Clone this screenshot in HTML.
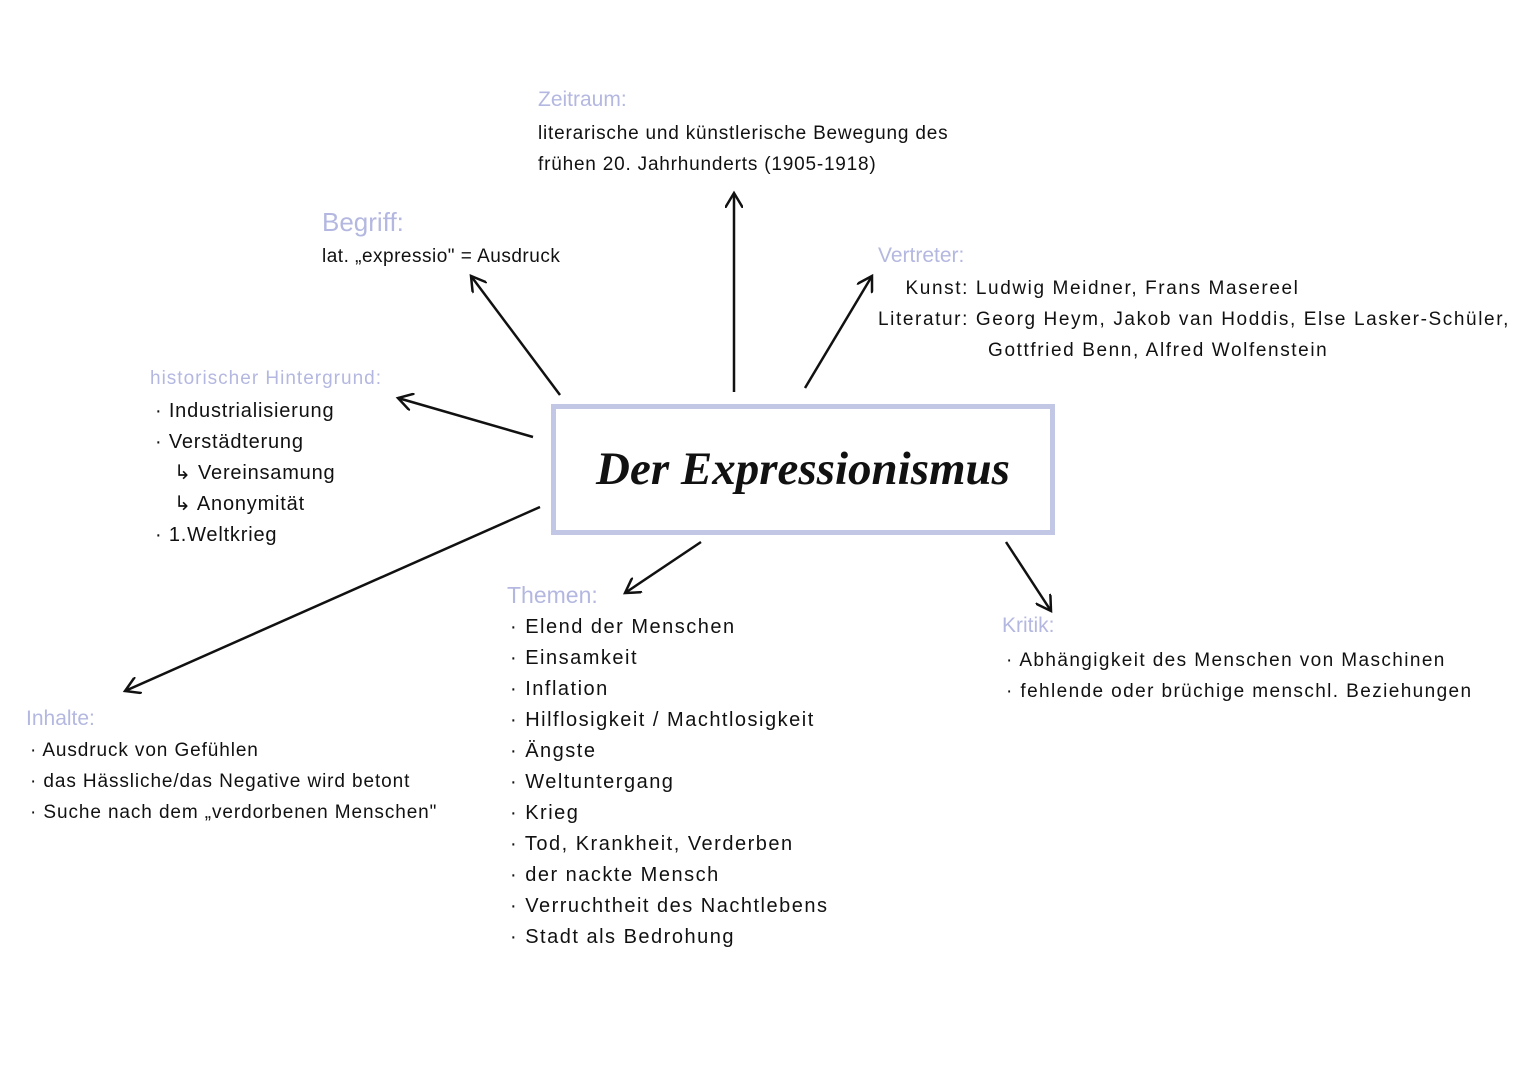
<!DOCTYPE html>
<html><head><meta charset="utf-8"><style>
body{margin:0;width:1527px;height:1080px;background:#fff;position:relative;overflow:hidden;font-family:"Liberation Sans",sans-serif;color:#111}
.t{position:absolute;white-space:nowrap;font-size:20px;line-height:31px;letter-spacing:0.8px}
.h{position:absolute;white-space:nowrap;color:#b4b8e0;font-size:21px}
.box{position:absolute;left:551px;top:404px;width:494px;height:121px;border:5px solid #c3c7e6;box-sizing:content-box}
.title{position:absolute;left:551px;top:404px;width:504px;height:131px;text-align:center;line-height:131px;font-family:"Liberation Serif",serif;font-style:italic;font-weight:bold;font-size:47px;color:#111}
</style></head><body>
<svg width="1527" height="1080" style="position:absolute;left:0;top:0">
<defs><marker id="a" markerWidth="18" markerHeight="18" refX="15" refY="9" orient="auto" markerUnits="userSpaceOnUse"><path d="M0,0 L15,9 L0,18" fill="none" stroke="#111" stroke-width="2.5"/></marker></defs>
<g stroke="#111" stroke-width="2.5" fill="none" marker-end="url(#a)">
<line x1="560" y1="395" x2="471" y2="276"/>
<line x1="734" y1="392" x2="734" y2="193"/>
<line x1="805" y1="388" x2="872" y2="276"/>
<line x1="533" y1="437" x2="398" y2="398"/>
<line x1="540" y1="507" x2="125" y2="691"/>
<line x1="701" y1="542" x2="625" y2="593"/>
<line x1="1006" y1="542" x2="1051" y2="611"/>
</g></svg>
<div class="box"></div><div class="title">Der Expressionismus</div>

<div class="h" style="left:538px;top:88px">Zeitraum:</div>
<div class="t" style="left:538px;top:118px;font-size:19px">literarische und künstlerische Bewegung des<br>frühen 20. Jahrhunderts (1905-1918)</div>

<div class="h" style="left:322px;top:207px;font-size:26px">Begriff:</div>
<div class="t" style="left:322px;top:241px;font-size:19px;letter-spacing:0.5px">lat. „expressio" = Ausdruck</div>

<div class="h" style="left:878px;top:244px">Vertreter:</div>
<div class="t" style="left:878px;top:273px;font-size:19px;letter-spacing:1.6px">&nbsp;&nbsp;&nbsp;&nbsp;Kunst: Ludwig Meidner, Frans Masereel<br>Literatur: Georg Heym, Jakob van Hoddis, Else Lasker-Schüler,<br>&nbsp;&nbsp;&nbsp;&nbsp;&nbsp;&nbsp;&nbsp;&nbsp;&nbsp;&nbsp;&nbsp;&nbsp;&nbsp;&nbsp;&nbsp;&nbsp;Gottfried Benn, Alfred Wolfenstein</div>

<div class="h" style="left:150px;top:368px;font-size:19px;letter-spacing:1px">historischer Hintergrund:</div>
<div class="t" style="left:155px;top:396px">· Industrialisierung<br>· Verstädterung<br>&nbsp;&nbsp;&nbsp;↳ Vereinsamung<br>&nbsp;&nbsp;&nbsp;↳ Anonymität<br>· 1.Weltkrieg</div>

<div class="h" style="left:26px;top:707px">Inhalte:</div>
<div class="t" style="left:30px;top:735px;font-size:19px;letter-spacing:0.9px">· Ausdruck von Gefühlen<br>· das Hässliche/das Negative wird betont<br>· Suche nach dem „verdorbenen Menschen"</div>

<div class="h" style="left:507px;top:582px;font-size:23px">Themen:</div>
<div class="t" style="left:510px;top:612px;letter-spacing:1.5px">· Elend der Menschen<br>· Einsamkeit<br>· Inflation<br>· Hilflosigkeit / Machtlosigkeit<br>· Ängste<br>· Weltuntergang<br>· Krieg<br>· Tod, Krankheit, Verderben<br>· der nackte Mensch<br>· Verruchtheit des Nachtlebens<br>· Stadt als Bedrohung</div>

<div class="h" style="left:1002px;top:614px">Kritik:</div>
<div class="t" style="left:1006px;top:645px;font-size:19px;letter-spacing:1.4px">· Abhängigkeit des Menschen von Maschinen<br>· fehlende oder brüchige menschl. Beziehungen</div>
</body></html>
